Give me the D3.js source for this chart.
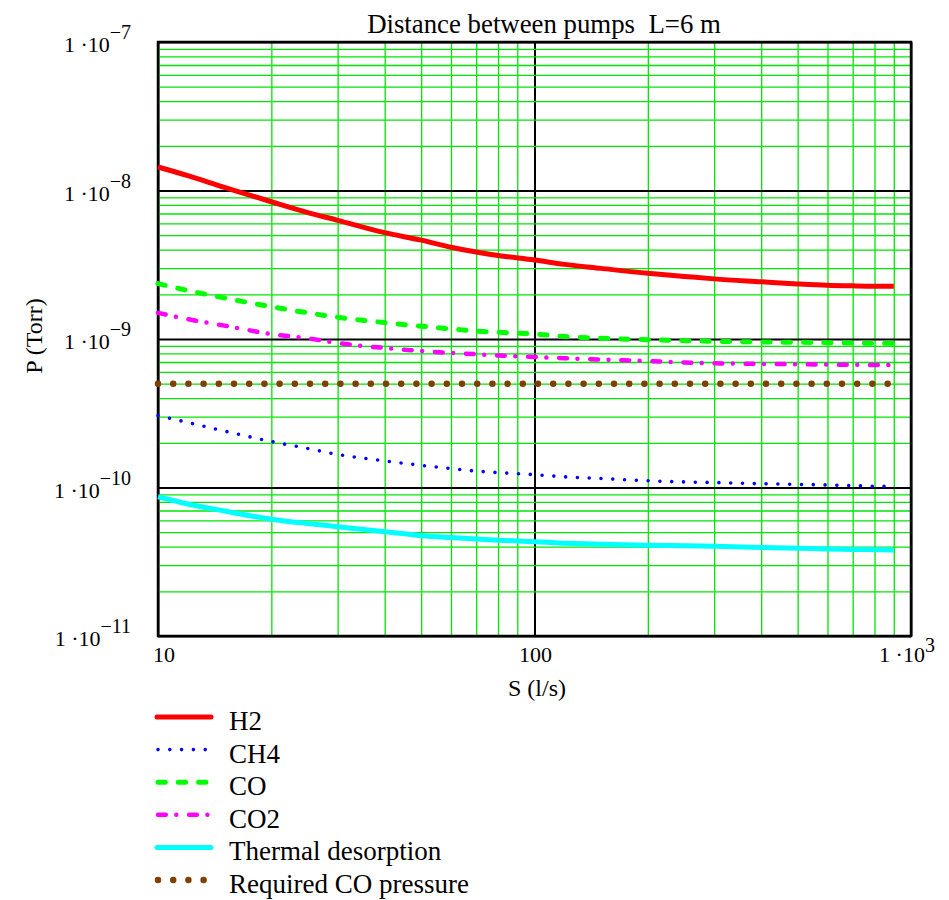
<!DOCTYPE html>
<html>
<head>
<meta charset="utf-8">
<script src="https://cdn.jsdelivr.net/npm/d3@7"></script>
<style>
  body { margin: 0; background: #fff; }
  svg { display: block; font-family: "Liberation Serif", "Times New Roman", serif; }
</style>
</head>
<body>
<svg id="chart1" width="949" height="900"></svg>
<script>
// pumping speed S (l/s)
const speeds = [10, 12, 15, 20, 25, 30, 40, 50, 60, 70, 80, 100, 120, 150, 200, 250, 300, 400, 500, 600, 700, 800, 900];
// pressures (Torr)
const h2 = [14.4e-9, 12.6e-9, 10.5e-9, 8.4e-9, 7.1e-9, 6.3e-9, 5.2e-9, 4.63e-9, 4.15e-9, 3.85e-9, 3.65e-9, 3.40e-9,
  3.18e-9, 2.99e-9, 2.77e-9, 2.64e-9, 2.54e-9, 2.43e-9, 2.35e-9, 2.30e-9, 2.28e-9, 2.27e-9, 2.27e-9];
const ch4 = [3.05e-10, 2.74e-10, 2.40e-10, 2.04e-10, 1.83e-10, 1.67e-10, 1.51e-10, 1.41e-10, 1.34e-10, 1.29e-10, 1.26e-10, 1.22e-10,
  1.18e-10, 1.15e-10, 1.11e-10, 1.09e-10, 1.08e-10, 1.06e-10, 1.05e-10, 1.04e-10, 1.03e-10, 1.02e-10, 1.02e-10];
const co = [2.36e-9, 2.12e-9, 1.89e-9, 1.65e-9, 1.50e-9, 1.40e-9, 1.29e-9, 1.22e-9, 1.17e-9, 1.13e-9, 1.11e-9, 1.08e-9,
  1.04e-9, 1.01e-9, 0.99e-9, 0.975e-9, 0.965e-9, 0.955e-9, 0.95e-9, 0.945e-9, 0.94e-9, 0.935e-9, 0.935e-9];
const co2 = [15.0e-10, 13.6e-10, 12.3e-10, 10.8e-10, 10.1e-10, 9.4e-10, 8.7e-10, 8.3e-10, 8.05e-10, 7.9e-10, 7.75e-10, 7.57e-10,
  7.42e-10, 7.28e-10, 7.1e-10, 6.95e-10, 6.86e-10, 6.80e-10, 6.76e-10, 6.73e-10, 6.71e-10, 6.69e-10, 6.68e-10];
const thermal = [8.67e-11, 7.75e-11, 6.95e-11, 6.12e-11, 5.72e-11, 5.45e-11, 5.04e-11, 4.74e-11, 4.60e-11, 4.50e-11, 4.42e-11, 4.31e-11,
  4.22e-11, 4.15e-11, 4.08e-11, 4.05e-11, 4.02e-11, 3.95e-11, 3.90e-11, 3.86e-11, 3.83e-11, 3.81e-11, 3.79e-11];
const requiredCO = speeds.map(() => 5e-10);

const seriesNames = ["H2", "CH4", "CO", "CO2", "Thermal desorption", "Required CO pressure"];
const seriesValues = [h2, ch4, co, co2, thermal, requiredCO];

const xTicks = [10, 100, 1000];
const xTickBase = ["10", "100", "1 \u00b710"];
const xTickExp = ["", "", "3"];
const yTicks = [1e-7, 1e-8, 1e-9, 1e-10, 1e-11];
const yTickBase = ["1 \u00b710", "1 \u00b710", "1 \u00b710", "1 \u00b710", "1 \u00b710"];
const yTickExp = ["\u22127", "\u22128", "\u22129", "\u221210", "\u221211"];

// line looks, same order as seriesNames
const looks = [
  { color: "#ff0000", width: 5, dash: null },
  { color: "#0000ff", width: 3.6, dash: "0,11.8" },
  { color: "#00ff00", width: 5, dash: "7.3,13" },
  { color: "#ff00ff", width: 4.5, dash: "7.8,10.5,0,12.8" },
  { color: "#00ffff", width: 5, dash: null },
  { color: "#7f3f00", width: 6.5, dash: "0,15.2" }
];

const margin = { left: 158, right: 911, top: 42, bottom: 636 };
const svg = d3.select("#chart1");
svg.append("rect").attr("width", 949).attr("height", 900).attr("fill", "#fff");

const x = d3.scaleLog().domain([10, 1000]).range([margin.left, margin.right]);
const y = d3.scaleLog().domain([1e-11, 1e-7]).range([margin.bottom, margin.top]);
const isDecade = v => Math.abs(Math.log10(v) - Math.round(Math.log10(v))) < 1e-6;

// grid
const gx = svg.append("g")
  .attr("transform", "translate(0," + margin.bottom + ")")
  .call(d3.axisBottom(x).tickValues(x.ticks()).tickSize(-(margin.bottom - margin.top)).tickFormat(""));
const gy = svg.append("g")
  .attr("transform", "translate(" + margin.left + ",0)")
  .call(d3.axisLeft(y).tickValues(y.ticks()).tickSize(-(margin.right - margin.left)).tickFormat(""));
[gx, gy].forEach(g => {
  g.select(".domain").remove();
  g.selectAll(".tick line")
    .attr("stroke", d => isDecade(d) ? "#000" : "#00e600")
    .attr("stroke-width", d => isDecade(d) ? 2 : 1.3);
});

// frame
svg.append("rect")
  .attr("x", margin.left).attr("y", margin.top)
  .attr("width", margin.right - margin.left).attr("height", margin.bottom - margin.top)
  .attr("fill", "none").attr("stroke", "#000").attr("stroke-width", 2.5);

// curves
const line = d3.line()
  .x(d => x(d[0]))
  .y(d => y(d[1]))
  .curve(d3.curveMonotoneX);

seriesValues.forEach((vals, i) => {
  svg.append("path")
    .datum(speeds.map((s, j) => [s, vals[j]]))
    .attr("d", line)
    .attr("fill", "none")
    .attr("stroke", looks[i].color)
    .attr("stroke-width", looks[i].width)
    .attr("stroke-linecap", looks[i].dash ? "round" : "butt")
    .attr("stroke-dasharray", looks[i].dash);
});

// tick labels
const yLab = svg.selectAll("text.ytick").data(yTicks).enter().append("text")
  .attr("class", "ytick")
  .attr("x", 131)
  .attr("y", d => y(d) + 10)
  .attr("text-anchor", "end")
  .style("font-size", "22px");
yLab.append("tspan").text((d, i) => yTickBase[i]);
yLab.append("tspan").attr("dy", -13).style("font-size", "20px").text((d, i) => yTickExp[i]);

const xLab = svg.selectAll("text.xtick").data(xTicks).enter().append("text")
  .attr("class", "xtick")
  .attr("x", (d, i) => x(d) + (i == 0 ? 6 : (i == 2 ? -4 : 1)))
  .attr("y", 662)
  .attr("text-anchor", "middle")
  .style("font-size", "22px");
xLab.append("tspan").text((d, i) => xTickBase[i]);
xLab.append("tspan").attr("dy", -10).style("font-size", "20px").text((d, i) => xTickExp[i]);

// titles
svg.append("text")
  .attr("x", 544).attr("y", 33)
  .attr("text-anchor", "middle")
  .style("font-size", "26.8px")
  .style("white-space", "pre")
  .text("Distance between pumps  L=6 m");

svg.append("text")
  .attr("x", 537).attr("y", 696)
  .attr("text-anchor", "middle")
  .style("font-size", "24px")
  .text("S (l/s)");

svg.append("text")
  .attr("transform", "rotate(-90)")
  .attr("x", -336).attr("y", 42)
  .attr("text-anchor", "middle")
  .style("font-size", "24px")
  .text("P (Torr)");

// legend
const legendY = d3.scaleLinear().domain([0, 5]).range([717, 880]);
const leg = svg.selectAll("g.legend").data(seriesNames).enter().append("g")
  .attr("class", "legend")
  .attr("transform", (d, i) => "translate(0," + legendY(i) + ")");
leg.append("line")
  .attr("x1", (d, i) => looks[i].dash ? 158 : 157)
  .attr("x2", 211)
  .attr("stroke", (d, i) => looks[i].color)
  .attr("stroke-width", (d, i) => looks[i].width)
  .attr("stroke-linecap", "round")
  .attr("stroke-dasharray", (d, i) => looks[i].dash);
leg.append("text")
  .attr("x", 229).attr("y", 13)
  .style("font-size", "27px")
  .text(d => d);
</script>
</body>
</html>
